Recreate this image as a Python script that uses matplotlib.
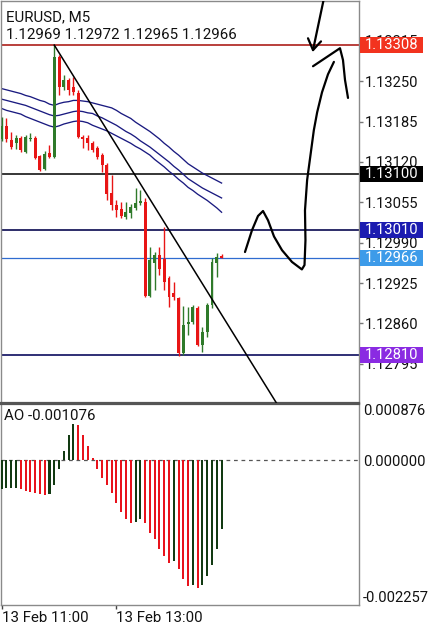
import matplotlib
matplotlib.use("Agg")
import matplotlib.pyplot as plt
import matplotlib.transforms as mtransforms
from matplotlib.patches import Rectangle
import numpy as np

plt.rcParams['font.family'] = ['Roboto', 'DejaVu Sans']

# ---------------- data ----------------
symbol_title = "EURUSD, M5"
ohlc_header = "1.12969 1.12972 1.12965 1.12966"
ao_header = "AO -0.001076"
time_labels = ["13 Feb 11:00", "13 Feb 13:00"]
time_label_idx = [0, 24]

opens = [1.13157, 1.13178, 1.13155, 1.13150, 1.13158, 1.13136, 1.13157, 1.13158, 1.13129, 1.13108,
         1.13134, 1.13128, 1.13289, 1.13240, 1.13252, 1.13240, 1.13231, 1.13160, 1.13158, 1.13150,
         1.13142, 1.13131, 1.13115, 1.13070, 1.13050, 1.13044, 1.13031, 1.13037, 1.13046, 1.13054,
         1.13055, 1.12905, 1.12957, 1.12970, 1.12963, 1.12933, 1.12909, 1.12901, 1.12812, 1.12859,
         1.12862, 1.12885, 1.12825, 1.12846, 1.12889, 1.12957, 1.12969]
highs = [1.13192, 1.13190, 1.13168, 1.13163, 1.13161, 1.13163, 1.13166, 1.13161, 1.13131, 1.13137,
         1.13147, 1.13308, 1.13292, 1.13260, 1.13255, 1.13256, 1.13236, 1.13163, 1.13163, 1.13153,
         1.13145, 1.13134, 1.13118, 1.13099, 1.13058, 1.13055, 1.13055, 1.13052, 1.13078, 1.13075,
         1.13062, 1.12983, 1.12975, 1.12983, 1.13015, 1.12936, 1.12926, 1.12902, 1.12888, 1.12886,
         1.12889, 1.12888, 1.12854, 1.12893, 1.12965, 1.12973, 1.12972]
lows = [1.13153, 1.13152, 1.13141, 1.13141, 1.13136, 1.13134, 1.13153, 1.13124, 1.13105, 1.13107,
        1.13126, 1.13126, 1.13227, 1.13236, 1.13227, 1.13227, 1.13158, 1.13142, 1.13139, 1.13136,
        1.13124, 1.13103, 1.13058, 1.13042, 1.13031, 1.13029, 1.13028, 1.13029, 1.13042, 1.13050,
        1.12902, 1.12902, 1.12914, 1.12938, 1.12914, 1.12886, 1.12897, 1.12808, 1.12810, 1.12841,
        1.12859, 1.12823, 1.12814, 1.12839, 1.12885, 1.12934, 1.12965]
closes = [1.13178, 1.13157, 1.13144, 1.13158, 1.13139, 1.13160, 1.13158, 1.13126, 1.13107, 1.13133,
          1.13128, 1.13289, 1.13240, 1.13252, 1.13236, 1.13232, 1.13160, 1.13157, 1.13150, 1.13139,
          1.13128, 1.13115, 1.13068, 1.13050, 1.13042, 1.13033, 1.13039, 1.13047, 1.13054, 1.13057,
          1.12904, 1.12962, 1.12971, 1.12947, 1.12926, 1.12902, 1.12902, 1.12812, 1.12857, 1.12862,
          1.12886, 1.12825, 1.12846, 1.12889, 1.12959, 1.12967, 1.12966]

ma_upper = [1.13238, 1.13236, 1.13234, 1.13232, 1.13230, 1.13227, 1.13225, 1.13222, 1.13219, 1.13217,
            1.13213, 1.13211, 1.13214, 1.13216, 1.13217, 1.13219, 1.13219, 1.13218, 1.13217, 1.13215,
            1.13213, 1.13211, 1.13209, 1.13207, 1.13203, 1.13198, 1.13194, 1.13190, 1.13184, 1.13179,
            1.13174, 1.13169, 1.13163, 1.13157, 1.13150, 1.13144, 1.13137, 1.13131, 1.13124, 1.13117,
            1.13112, 1.13107, 1.13102, 1.13098, 1.13094, 1.13090, 1.13086]
ma_mid = [1.13221, 1.13219, 1.13217, 1.13215, 1.13213, 1.13211, 1.13208, 1.13205, 1.13202, 1.13199,
          1.13196, 1.13194, 1.13195, 1.13197, 1.13199, 1.13201, 1.13202, 1.13201, 1.13199, 1.13198,
          1.13194, 1.13191, 1.13187, 1.13183, 1.13179, 1.13174, 1.13169, 1.13165, 1.13160, 1.13154,
          1.13149, 1.13144, 1.13138, 1.13132, 1.13126, 1.13120, 1.13113, 1.13107, 1.13100, 1.13093,
          1.13088, 1.13083, 1.13078, 1.13074, 1.13070, 1.13066, 1.13062]
ma_lower = [1.13206, 1.13203, 1.13201, 1.13199, 1.13197, 1.13193, 1.13190, 1.13187, 1.13184, 1.13181,
            1.13178, 1.13176, 1.13178, 1.13181, 1.13183, 1.13185, 1.13186, 1.13185, 1.13183, 1.13179,
            1.13176, 1.13173, 1.13170, 1.13166, 1.13162, 1.13158, 1.13154, 1.13150, 1.13145, 1.13141,
            1.13136, 1.13131, 1.13124, 1.13118, 1.13112, 1.13105, 1.13099, 1.13092, 1.13086, 1.13079,
            1.13074, 1.13068, 1.13063, 1.13058, 1.13052, 1.13046, 1.13039]

ao_values = [-0.000450, -0.000440, -0.000437, -0.000430, -0.000450, -0.000480, -0.000500, -0.000505,
             -0.000520, -0.000540, -0.000530, -0.000390, -0.000130, 0.000145, 0.000390, 0.000560,
             0.000550, 0.000390, 0.000220, 0.000040, -0.000140, -0.000270, -0.000390, -0.000510,
             -0.000670, -0.000810, -0.000920, -0.000980, -0.000970, -0.000920, -0.000980, -0.001130,
             -0.001230, -0.001380, -0.001500, -0.001600, -0.001570, -0.001700, -0.001850, -0.001960,
             -0.001940, -0.001990, -0.001940, -0.001810, -0.001630, -0.001390, -0.001076]

levels = [1.13308, 1.13100, 1.13010, 1.12966, 1.12810]
level_line_colors = ['#b3302c', '#000000', '#1c1c5e', '#2f6cd0', '#1f1f6a']
level_line_widths = [1.3, 1.1, 1.3, 0.9, 1.3]
level_box_colors = ['#f2331f', '#000000', '#1c1cb0', '#3d9be9', '#8a2be2']

price_ticks = [1.13315, 1.13250, 1.13185, 1.13120, 1.13055, 1.12990, 1.12925, 1.12860, 1.12795]
ao_ticks = [0.000876, 0.0, -0.002257]
ao_tick_labels = ["0.000876", "0.000000", "-0.002257"]

trend_start = (11, 1.13308)
trend_through = (39, 1.12961)

# hand-drawn pen strokes (candle index, price)
stroke_curve_x = [50.90, 52.36, 53.62, 54.67, 55.72, 56.97, 58.64, 60.73, 62.80, 63.35, 63.55, 63.45,
                  63.90, 64.60, 65.30, 66.00, 67.01, 68.26, 69.50]
stroke_curve_y = [1.12975, 1.13010, 1.13033, 1.13041, 1.13026, 1.13000, 1.12978, 1.12959, 1.12947,
                  1.12954, 1.12994, 1.13042, 1.13091, 1.13131, 1.13171, 1.13200, 1.13232, 1.13261,
                  1.13281]
stroke_hat_x = [65.13, 68.05, 70.77, 71.40, 71.82, 72.45]
stroke_hat_y = [1.13274, 1.13289, 1.13303, 1.13284, 1.13252, 1.13223]
stroke_arrow_x = [67.43, 65.13]
stroke_arrow_y = [1.13384, 1.13300]
stroke_head_x = [64.08, 65.13, 66.80]
stroke_head_y = [1.13319, 1.13300, 1.13314]

# ---------------- figure ----------------
W, H = 434, 625
fig = plt.figure(figsize=(W / 100, H / 100), dpi=100)
fig.patch.set_facecolor('white')

ax = fig.add_axes([1 / W, 1 - 403 / H, 358 / W, 402 / H])
ax2 = fig.add_axes([1 / W, 1 - 605 / H, 358 / W, 201 / H])

xlim = (-0.146, 74.75)
ylim = (1.12732, 1.13379)
for a in (ax, ax2):
    a.set_xlim(*xlim)
    a.set_facecolor('white')
ax.set_ylim(*ylim)
ax2.set_ylim(-0.002257, 0.000876)

n = len(opens)
xs = np.arange(n)
green_c = '#2f7a2a'
red_c = '#e81515'

# level lines
for lv, lc, lw in zip(levels, level_line_colors, level_line_widths):
    ax.axhline(lv, color=lc, lw=lw, zorder=1)

# MA lines
for arr in (ma_upper, ma_mid, ma_lower):
    ax.plot(xs, arr, color='#1a1a80', lw=0.95, zorder=2)

# candles
for i in range(n):
    o, h, l, c = opens[i], highs[i], lows[i], closes[i]
    col = green_c if c >= o else red_c
    ax.vlines(i, l, h, color=col, lw=1.0, zorder=3)
    body = max(abs(c - o), 0.000012)
    ax.bar(i, body, bottom=min(o, c), width=0.62, color=col, zorder=4, linewidth=0)

# trend line (ray from the high of the big candle)
slope = (trend_through[1] - trend_start[1]) / (trend_through[0] - trend_start[0])
x_end = xlim[1] + 5
ax.plot([trend_start[0], x_end], [trend_start[1], trend_start[1] + slope * (x_end - trend_start[0])],
        color='black', lw=1.1, zorder=5)

# pen strokes
for sx, sy in ((stroke_curve_x, stroke_curve_y), (stroke_hat_x, stroke_hat_y),
               (stroke_arrow_x, stroke_arrow_y), (stroke_head_x, stroke_head_y)):
    ax.plot(sx, sy, color='black', lw=1.6, solid_capstyle='round', solid_joinstyle='round', zorder=6)

# axes styling main
ax.set_xticks([])
ax.yaxis.tick_right()
ax.set_yticks(price_ticks)
ax.set_yticklabels([f"{t:.5f}" for t in price_ticks])
ax.tick_params(axis='y', length=3, width=1, color='#777777', pad=1, labelsize=10.6, labelcolor='#111111')
for s in ax.spines.values():
    s.set_color('#8a8a8a')
    s.set_linewidth(1.0)
ax.spines['bottom'].set_color('#555555')
ax.spines['bottom'].set_linewidth(1.6)

# level price boxes
ax_h_px = 402
px_to_price = (ylim[1] - ylim[0]) / ax_h_px
blend = mtransforms.blended_transform_factory(ax.transAxes, ax.transData)
box_w = 63 / 358
box_x0 = 1 + 1 / 358
for lv, bc in zip(levels, level_box_colors):
    ax.add_patch(Rectangle((box_x0, lv - 8 * px_to_price), box_w, 16 * px_to_price,
                           transform=blend, facecolor=bc, edgecolor='none', clip_on=False, zorder=10))
    ax.text(box_x0 + box_w / 2, lv, f"{lv:.5f}", transform=blend, ha='center', va='center',
            color='white', fontsize=10.6, zorder=11, clip_on=False)

# header texts
ax.text(5 / 358, 1 - 16 / 402, symbol_title, transform=ax.transAxes, ha='left', va='center',
        fontsize=10.8, color='#111111', zorder=12)
ax.text(5 / 358, 1 - 34 / 402, ohlc_header, transform=ax.transAxes, ha='left', va='center',
        fontsize=10.8, color='#111111', zorder=12)

# ---------------- AO panel ----------------
ao_cols = []
for i, v in enumerate(ao_values):
    if i == 0 or v >= ao_values[i - 1]:
        ao_cols.append('#123a12')
    else:
        ao_cols.append('#e8131c')
ax2.bar(xs, ao_values, width=0.42, color=ao_cols, linewidth=0, zorder=3)
ax2.axhline(0.0, color='#555555', lw=0.9, dashes=(3, 3), zorder=2)

ax2.yaxis.tick_right()
ax2.set_yticks(ao_ticks)
ax2.set_yticklabels(ao_tick_labels)
ax2.tick_params(axis='y', length=0, pad=3, labelsize=10.6, labelcolor='#111111')
ylabels = ax2.get_yticklabels()
ylabels[0].set_va('top')
ylabels[2].set_va('bottom')

ax2.set_xticks(time_label_idx)
ax2.set_xticklabels(time_labels)
ax2.tick_params(axis='x', length=3, width=1, color='#444444', pad=1, labelsize=10.8, labelcolor='#111111')
for lab in ax2.get_xticklabels():
    lab.set_ha('left')

for s in ax2.spines.values():
    s.set_color('#8a8a8a')
    s.set_linewidth(1.0)
ax2.spines['top'].set_color('#555555')
ax2.spines['top'].set_linewidth(1.6)

ax2.text(3 / 358, 1 - 12 / 201, ao_header, transform=ax2.transAxes, ha='left', va='center',
         fontsize=10.8, color='#111111', zorder=12)

fig.savefig('out.png', dpi=100, facecolor='white')
